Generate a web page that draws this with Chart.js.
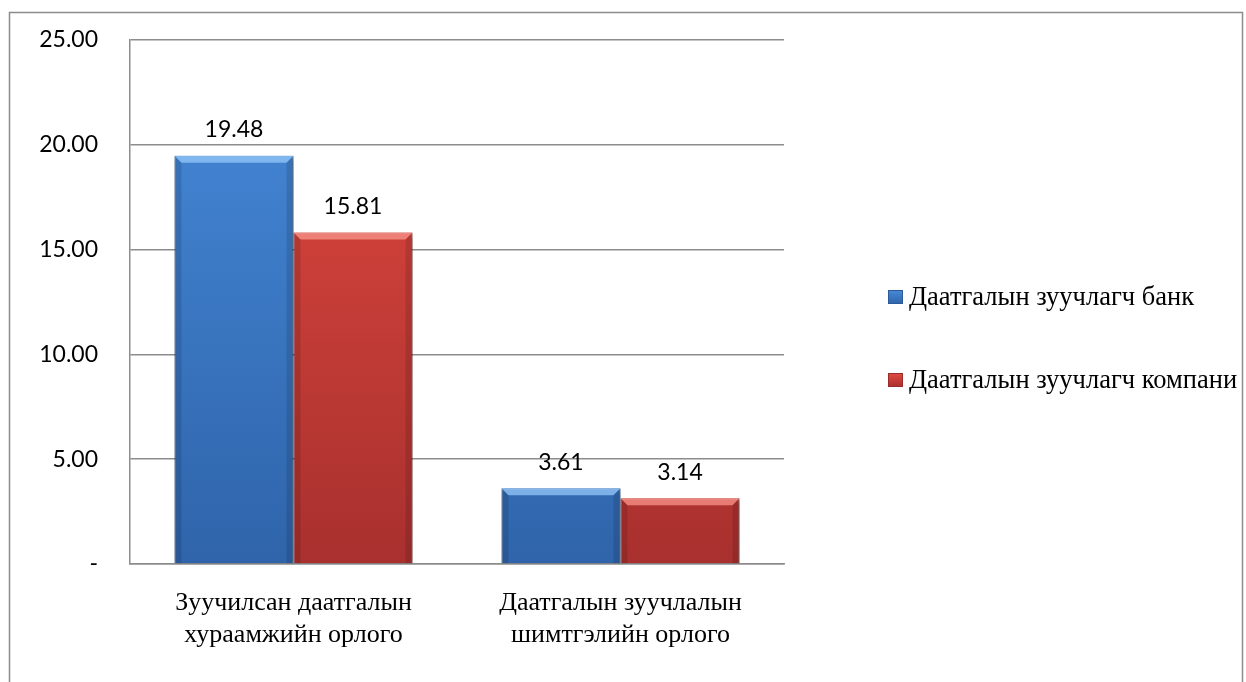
<!DOCTYPE html>
<html>
<head>
<meta charset="utf-8">
<script src="https://cdn.jsdelivr.net/npm/chart.js@4"></script>
<style>
  html, body { margin: 0; padding: 0; background: #fff; }
  #wrap { width: 1246px; height: 682px; }
</style>
</head>
<body>
<div id="wrap"><canvas id="chart" width="1246" height="682"></canvas></div>
<script>
const categories = [
  ['Зуучилсан даатгалын', 'хураамжийн орлого'],
  ['Даатгалын зуучлалын', 'шимтгэлийн орлого']
];
const bankValues = [19.48, 3.61];
const companyValues = [15.81, 3.14];
const seriesNames = ['Даатгалын зуучлагч банк', 'Даатгалын зуучлагч компани'];

const SERIF = 'Liberation Serif, DejaVu Serif, serif';
const SANS = 'Lato, Open Sans, sans-serif';
// top, bottom, border, bevel highlight
const colors = [
  ['#468ada', '#2f64aa', '#2a5a98', 'rgba(150,200,250,0.75)'],
  ['#e2493f', '#a8302e', '#9a2c2a', 'rgba(250,150,140,0.75)']
];

function vGrad(chart, top, bottom) {
  const area = chart.chartArea;
  if (!area) return top;
  const g = chart.ctx.createLinearGradient(0, area.top, 0, area.bottom);
  g.addColorStop(0, top);
  g.addColorStop(1, bottom);
  return g;
}

// frame around the whole chart object
const framePlugin = {
  id: 'frame',
  beforeDraw(chart) {
    const ctx = chart.ctx;
    ctx.save();
    ctx.strokeStyle = '#8c8c8c';
    ctx.lineWidth = 1.5;
    ctx.strokeRect(9.5, 12.5, 1233, 700);
    ctx.restore();
  }
};

// soft shadow under bars
const shadowPlugin = {
  id: 'shadow',
  beforeDatasetsDraw(chart) {
    const ctx = chart.ctx;
    ctx.save();
    ctx.shadowColor = 'rgba(0,0,0,0.35)';
    ctx.shadowBlur = 4;
    ctx.shadowOffsetX = 2;
    ctx.shadowOffsetY = 2;
  },
  afterDatasetsDraw(chart) {
    chart.ctx.restore();
  }
};

// bevel look: light top edge, darker sides
const bevelPlugin = {
  id: 'bevel',
  afterDatasetsDraw(chart) {
    const ctx = chart.ctx;
    ctx.save();
    chart.data.datasets.forEach((ds, i) => {
      chart.getDatasetMeta(i).data.forEach(bar => {
        const l = bar.x - bar.width / 2, r = bar.x + bar.width / 2;
        const t = bar.y, b = bar.base, d = 7;
        ctx.fillStyle = colors[i][3];
        ctx.beginPath();
        ctx.moveTo(l, t); ctx.lineTo(r, t); ctx.lineTo(r - d, t + d); ctx.lineTo(l + d, t + d);
        ctx.closePath(); ctx.fill();
        ctx.fillStyle = 'rgba(0,0,0,0.12)';
        ctx.beginPath();
        ctx.moveTo(l, t); ctx.lineTo(l + d, t + d); ctx.lineTo(l + d, b); ctx.lineTo(l, b);
        ctx.closePath(); ctx.fill();
        ctx.beginPath();
        ctx.moveTo(r, t); ctx.lineTo(r - d, t + d); ctx.lineTo(r - d, b); ctx.lineTo(r, b);
        ctx.closePath(); ctx.fill();
      });
    });
    ctx.restore();
  }
};

// value labels above bars
const valuePlugin = {
  id: 'values',
  afterDatasetsDraw(chart) {
    const ctx = chart.ctx;
    ctx.save();
    ctx.font = '23px ' + SANS;
    ctx.fillStyle = '#000';
    ctx.textAlign = 'center';
    ctx.textBaseline = 'middle';
    chart.data.datasets.forEach((ds, i) => {
      chart.getDatasetMeta(i).data.forEach((bar, j) => {
        ctx.fillText(ds.data[j].toFixed(2), bar.x, bar.y - 26);
      });
    });
    ctx.restore();
  }
};

// legend on the right, items stacked with wide spacing
const legendPlugin = {
  id: 'sideLegend',
  afterDraw(chart) {
    const ctx = chart.ctx;
    const x = chart.chartArea.right + 104;
    const rows = [297, 380];
    ctx.save();
    ctx.font = '26.5px ' + SERIF;
    ctx.textBaseline = 'middle';
    ctx.textAlign = 'left';
    chart.data.datasets.forEach((ds, i) => {
      const y = rows[i];
      const g = ctx.createLinearGradient(0, y - 7, 0, y + 7);
      g.addColorStop(0, colors[i][0]);
      g.addColorStop(1, colors[i][1]);
      ctx.fillStyle = g;
      ctx.fillRect(x, y - 7, 15, 14);
      ctx.strokeStyle = colors[i][2];
      ctx.lineWidth = 1;
      ctx.strokeRect(x + 0.5, y - 6.5, 14, 13);
      ctx.fillStyle = '#000';
      ctx.fillText(ds.label, x + 21, y + 1);
    });
    ctx.restore();
  }
};

new Chart(document.getElementById('chart'), {
  type: 'bar',
  data: {
    labels: categories,
    datasets: [
      {
        label: seriesNames[0],
        data: bankValues,
        backgroundColor: c => vGrad(c.chart, colors[0][0], colors[0][1]),
        borderColor: colors[0][2],
        borderWidth: 1
      },
      {
        label: seriesNames[1],
        data: companyValues,
        backgroundColor: c => vGrad(c.chart, colors[1][0], colors[1][1]),
        borderColor: colors[1][2],
        borderWidth: 1
      }
    ]
  },
  options: {
    responsive: false,
    animation: false,
    devicePixelRatio: 1,
    layout: { padding: { top: 40, right: 462, left: 0, bottom: 0 } },
    categoryPercentage: 0.728,
    barPercentage: 1.0,
    plugins: {
      tooltip: { enabled: false },
      legend: { display: false }
    },
    scales: {
      x: {
        grid: { display: false, drawTicks: false },
        border: { color: '#8c8c8c', width: 1.5 },
        ticks: {
          color: '#000',
          padding: 24,
          maxRotation: 0,
          autoSkip: false,
          font: { family: SERIF, size: 26, lineHeight: 1.2 }
        },
        afterFit(s) { s.height = 118; s.paddingLeft = 0; s.paddingRight = 0; }
      },
      y: {
        min: 0,
        max: 25,
        grid: { color: '#8c8c8c', lineWidth: 1.5, drawTicks: false },
        border: { color: '#8c8c8c', width: 1.5 },
        ticks: {
          stepSize: 5,
          color: '#000',
          padding: 32,
          font: { family: SANS, size: 23 },
          callback: v => v === 0 ? '-' : v.toFixed(2)
        },
        afterFit(s) { s.width = 130; s.paddingTop = 0; s.paddingBottom = 0; }
      }
    }
  },
  plugins: [framePlugin, shadowPlugin, bevelPlugin, valuePlugin, legendPlugin]
});
</script>
</body>
</html>
